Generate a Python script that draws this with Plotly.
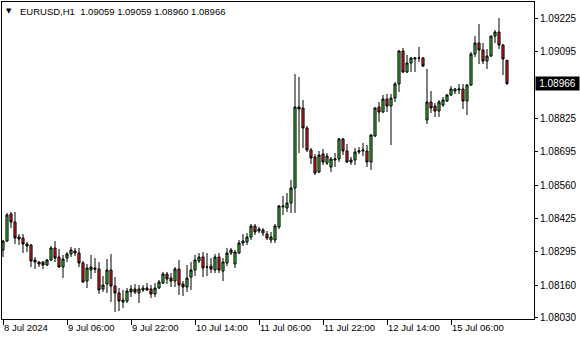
import plotly.graph_objects as go

# EURUSD H1 bars, 8 Jul 2024 14:00 .. 15 Jul 2024 20:00 (weekend skipped)
opens = [1.08300, 1.08336, 1.08444, 1.08412, 1.08352, 1.08348, 1.08324, 1.08320, 1.08260, 1.08252,
         1.08252, 1.08240, 1.08260, 1.08308, 1.08272, 1.08232, 1.08268, 1.08284, 1.08296, 1.08288,
         1.08248, 1.08176, 1.08220, 1.08228, 1.08224, 1.08144, 1.08164, 1.08220, 1.08156, 1.08128,
         1.08092, 1.08096, 1.08132, 1.08144, 1.08128, 1.08140, 1.08148, 1.08144, 1.08124, 1.08148,
         1.08168, 1.08204, 1.08188, 1.08176, 1.08224, 1.08164, 1.08152, 1.08192, 1.08220, 1.08256,
         1.08272, 1.08232, 1.08236, 1.08220, 1.08272, 1.08216, 1.08248, 1.08288, 1.08244, 1.08288,
         1.08328, 1.08332, 1.08352, 1.08396, 1.08376, 1.08368, 1.08364, 1.08340, 1.08340, 1.08392,
         1.08472, 1.08468, 1.08488, 1.08548, 1.08872, 1.08868, 1.08788, 1.08700, 1.08672, 1.08612,
         1.08684, 1.08648, 1.08632, 1.08660, 1.08664, 1.08744, 1.08696, 1.08652, 1.08660, 1.08692,
         1.08696, 1.08696, 1.08652, 1.08756, 1.08872, 1.08852, 1.08904, 1.08876, 1.08908, 1.08964,
         1.09096, 1.09012, 1.09048, 1.09064, 1.09068, 1.09068, 1.08820, 1.08892, 1.08876, 1.08856,
         1.08880, 1.08896, 1.08920, 1.08936, 1.08940, 1.08944, 1.08896, 1.08960, 1.09084, 1.09128,
         1.09100, 1.09056, 1.09076, 1.09156, 1.09172, 1.09120, 1.09059]

highs = [1.08340, 1.08448, 1.08452, 1.08452, 1.08364, 1.08364, 1.08332, 1.08324, 1.08272, 1.08256,
         1.08256, 1.08264, 1.08316, 1.08336, 1.08304, 1.08280, 1.08292, 1.08312, 1.08308, 1.08308,
         1.08256, 1.08244, 1.08280, 1.08268, 1.08252, 1.08196, 1.08264, 1.08284, 1.08192, 1.08148,
         1.08140, 1.08148, 1.08160, 1.08164, 1.08160, 1.08160, 1.08168, 1.08160, 1.08168, 1.08180,
         1.08212, 1.08212, 1.08208, 1.08232, 1.08260, 1.08176, 1.08240, 1.08252, 1.08280, 1.08288,
         1.08292, 1.08288, 1.08268, 1.08284, 1.08288, 1.08268, 1.08308, 1.08308, 1.08300, 1.08340,
         1.08364, 1.08368, 1.08404, 1.08404, 1.08392, 1.08388, 1.08376, 1.08372, 1.08404, 1.08480,
         1.08516, 1.08528, 1.08580, 1.09004, 1.08992, 1.08900, 1.08796, 1.08708, 1.08684, 1.08696,
         1.08704, 1.08688, 1.08672, 1.08688, 1.08748, 1.08748, 1.08724, 1.08672, 1.08708, 1.08712,
         1.08728, 1.08720, 1.08764, 1.08872, 1.08892, 1.08920, 1.08924, 1.08924, 1.08972, 1.09100,
         1.09108, 1.09080, 1.09072, 1.09072, 1.09112, 1.09072, 1.09024, 1.08936, 1.08888, 1.08900,
         1.08912, 1.08924, 1.08956, 1.08948, 1.08964, 1.08964, 1.08964, 1.09092, 1.09156, 1.09204,
         1.09128, 1.09104, 1.09156, 1.09180, 1.09228, 1.09124, 1.09059]

lows = [1.08272, 1.08332, 1.08388, 1.08324, 1.08320, 1.08288, 1.08292, 1.08232, 1.08224, 1.08232,
        1.08224, 1.08236, 1.08256, 1.08252, 1.08228, 1.08188, 1.08252, 1.08272, 1.08276, 1.08232,
        1.08168, 1.08148, 1.08184, 1.08208, 1.08124, 1.08132, 1.08128, 1.08092, 1.08052, 1.08056,
        1.08068, 1.08088, 1.08112, 1.08124, 1.08088, 1.08132, 1.08136, 1.08108, 1.08112, 1.08144,
        1.08164, 1.08164, 1.08152, 1.08152, 1.08120, 1.08116, 1.08132, 1.08140, 1.08196, 1.08248,
        1.08192, 1.08196, 1.08208, 1.08208, 1.08208, 1.08176, 1.08236, 1.08280, 1.08228, 1.08284,
        1.08316, 1.08320, 1.08340, 1.08360, 1.08368, 1.08356, 1.08340, 1.08328, 1.08328, 1.08384,
        1.08440, 1.08452, 1.08448, 1.08448, 1.08688, 1.08708, 1.08692, 1.08644, 1.08600, 1.08608,
        1.08640, 1.08640, 1.08612, 1.08632, 1.08652, 1.08680, 1.08648, 1.08640, 1.08640, 1.08684,
        1.08676, 1.08632, 1.08620, 1.08752, 1.08812, 1.08848, 1.08852, 1.08720, 1.08892, 1.08932,
        1.09008, 1.09008, 1.09012, 1.09012, 1.09052, 1.09032, 1.08804, 1.08848, 1.08832, 1.08832,
        1.08872, 1.08892, 1.08916, 1.08924, 1.08924, 1.08864, 1.08840, 1.08956, 1.09072, 1.09044,
        1.09044, 1.09024, 1.09072, 1.09128, 1.09104, 1.09000, 1.08960]

closes = [1.08336, 1.08440, 1.08412, 1.08348, 1.08344, 1.08324, 1.08316, 1.08256, 1.08252, 1.08244,
          1.08240, 1.08260, 1.08308, 1.08268, 1.08232, 1.08264, 1.08284, 1.08300, 1.08288, 1.08248,
          1.08172, 1.08228, 1.08232, 1.08224, 1.08140, 1.08160, 1.08220, 1.08156, 1.08128, 1.08096,
          1.08100, 1.08136, 1.08144, 1.08132, 1.08144, 1.08148, 1.08140, 1.08124, 1.08148, 1.08172,
          1.08204, 1.08184, 1.08176, 1.08224, 1.08160, 1.08152, 1.08188, 1.08220, 1.08260, 1.08272,
          1.08228, 1.08232, 1.08224, 1.08272, 1.08220, 1.08252, 1.08288, 1.08300, 1.08292, 1.08328,
          1.08336, 1.08352, 1.08396, 1.08372, 1.08384, 1.08380, 1.08348, 1.08352, 1.08396, 1.08476,
          1.08476, 1.08488, 1.08548, 1.08872, 1.08864, 1.08788, 1.08700, 1.08668, 1.08608, 1.08680,
          1.08652, 1.08676, 1.08664, 1.08664, 1.08744, 1.08696, 1.08652, 1.08660, 1.08692, 1.08696,
          1.08700, 1.08652, 1.08760, 1.08868, 1.08852, 1.08904, 1.08876, 1.08908, 1.08964, 1.09096,
          1.09012, 1.09048, 1.09068, 1.09068, 1.09068, 1.09036, 1.08892, 1.08868, 1.08856, 1.08892,
          1.08900, 1.08920, 1.08944, 1.08944, 1.08944, 1.08896, 1.08960, 1.09084, 1.09128, 1.09100,
          1.09056, 1.09076, 1.09156, 1.09172, 1.09120, 1.09064, 1.08966]

bar_index = list(range(len(opens)))

x_tick_bars = [0, 16, 32, 48, 64, 80, 96, 112]
x_tick_labels = ["8 Jul 2024", "9 Jul 06:00", "9 Jul 22:00", "10 Jul 14:00",
                 "11 Jul 06:00", "11 Jul 22:00", "12 Jul 14:00", "15 Jul 06:00"]

y_tick_vals = [1.09225, 1.09095, 1.08825, 1.08695, 1.08560, 1.08425, 1.08295, 1.08160, 1.08030]
y_tick_labels = ["%.5f" % v for v in y_tick_vals]

symbol = "EURUSD,H1"
last_bar = (opens[-1], highs[-1], lows[-1], closes[-1])

GREEN = "#3CC83C"
RED = "#F02020"
FONT = "Liberation Sans"

fig = go.Figure()
fig.add_trace(go.Candlestick(
    x=bar_index, open=opens, high=highs, low=lows, close=closes,
    increasing=dict(line=dict(color="black", width=1), fillcolor=GREEN),
    decreasing=dict(line=dict(color="black", width=1), fillcolor=RED),
    whiskerwidth=0, hoverinfo="skip", showlegend=False,
))

fig.update_layout(
    width=580, height=340,
    margin=dict(l=2, r=46, t=2, b=21),
    paper_bgcolor="white", plot_bgcolor="white",
    boxgap=0.25,
    font=dict(family=FONT, size=10, color="black"),
    showlegend=False,
    xaxis=dict(
        range=[-0.25, 132.75], rangeslider=dict(visible=False),
        showgrid=False, zeroline=False,
        showline=True, mirror=True, linecolor="black", linewidth=1,
        tickmode="array", tickvals=x_tick_bars, ticktext=x_tick_labels,
        ticks="outside", ticklen=5, tickcolor="black", tickwidth=1,
        ticklabelposition="outside right",
        tickfont=dict(family=FONT, size=9.5, color="black"),
    ),
    yaxis=dict(
        range=[1.08024, 1.09292], side="right",
        showgrid=False, zeroline=False,
        showline=True, mirror=True, linecolor="black", linewidth=1,
        tickmode="array", tickvals=y_tick_vals, ticktext=y_tick_labels,
        ticks="outside", ticklen=3, tickcolor="black", tickwidth=1,
        tickfont=dict(family=FONT, size=10, color="black"),
    ),
)

title_text = "%s  %.5f %.5f %.5f %.5f" % ((symbol,) + last_bar)
fig.add_annotation(xref="paper", yref="paper", x=0.0301, y=0.9716,
                   xanchor="left", yanchor="middle", showarrow=False,
                   text=title_text, font=dict(family=FONT, size=9.5, color="black"))
fig.add_annotation(xref="paper", yref="paper", x=0.0132, y=0.9716,
                   xanchor="center", yanchor="middle", showarrow=False,
                   text="▼", font=dict(family="DejaVu Sans", size=7, color="black"))

fig.add_annotation(xref="paper", yref="y", x=1, y=closes[-1],
                   xanchor="left", yanchor="middle", xshift=1, showarrow=False,
                   text="%.5f" % closes[-1], bgcolor="black", borderpad=1,
                   width=41, font=dict(family=FONT, size=10, color="white"))

fig.write_html("out.html")
